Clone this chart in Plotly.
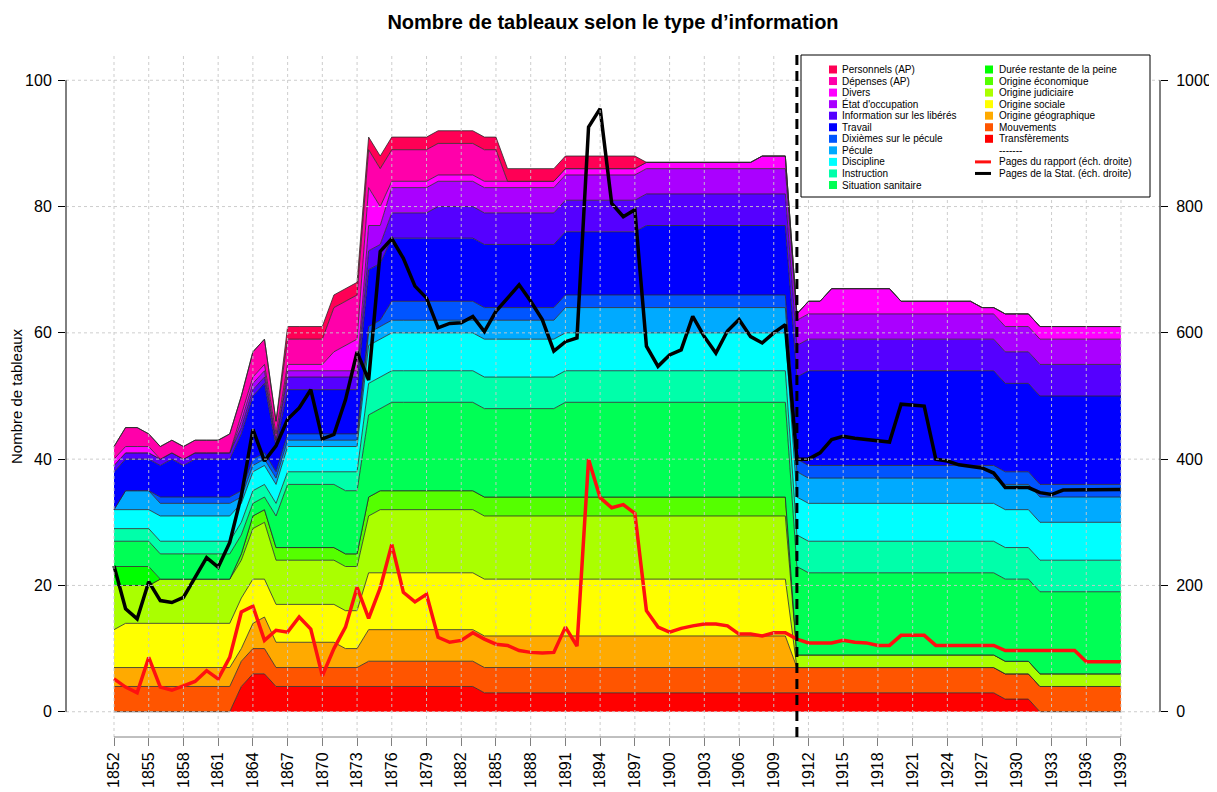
import plotly.graph_objects as go

# ---------------- DATA ----------------
years = [1852, 1853, 1854, 1855, 1856, 1857, 1858, 1859, 1860, 1861,
         1862, 1863, 1864, 1865, 1866, 1867, 1868, 1869, 1870, 1871,
         1872, 1873, 1874, 1875, 1876, 1877, 1878, 1879, 1880, 1881,
         1882, 1883, 1884, 1885, 1886, 1887, 1888, 1889, 1890, 1891,
         1892, 1893, 1894, 1895, 1896, 1897, 1898, 1899, 1900, 1901,
         1902, 1903, 1904, 1905, 1906, 1907, 1908, 1909, 1910, 1911,
         1912, 1913, 1914, 1915, 1916, 1917, 1918, 1919, 1920, 1921,
         1922, 1923, 1924, 1925, 1926, 1927, 1928, 1929, 1930, 1931,
         1932, 1933, 1934, 1935, 1936, 1937, 1938, 1939]

x_ticks = [1852, 1855, 1858, 1861, 1864, 1867, 1870, 1873, 1876, 1879,
           1882, 1885, 1888, 1891, 1894, 1897, 1900, 1903, 1906, 1909,
           1912, 1915, 1918, 1921, 1924, 1927, 1930, 1933, 1936, 1939]
y_ticks = [0, 20, 40, 60, 80, 100]
y2_ticks = [0, 200, 400, 600, 800, 1000]
break_year = 1911

transferements = [0, 0, 0, 0, 0, 0, 0, 0, 0, 0,
                  0, 4, 6, 6, 4, 4, 4, 4, 4, 4,
                  4, 4, 4, 4, 4, 4, 4, 4, 4, 4,
                  4, 4, 3, 3, 3, 3, 3, 3, 3, 3,
                  3, 3, 3, 3, 3, 3, 3, 3, 3, 3,
                  3, 3, 3, 3, 3, 3, 3, 3, 3, 3,
                  3, 3, 3, 3, 3, 3, 3, 3, 3, 3,
                  3, 3, 3, 3, 3, 3, 3, 2, 2, 2,
                  0, 0, 0, 0, 0, 0, 0, 0]
mouvements = [4, 4, 4, 4, 4, 4, 4, 4, 4, 4,
              4, 4, 4, 4, 3, 3, 3, 3, 3, 3,
              3, 3, 4, 4, 4, 4, 4, 4, 4, 4,
              4, 4, 4, 4, 4, 4, 4, 4, 4, 4,
              4, 4, 4, 4, 4, 4, 4, 4, 4, 4,
              4, 4, 4, 4, 4, 4, 4, 4, 4, 4,
              4, 4, 4, 4, 4, 4, 4, 4, 4, 4,
              4, 4, 4, 4, 4, 4, 4, 4, 4, 4,
              4, 4, 4, 4, 4, 4, 4, 4]
geographique = [3, 3, 3, 3, 3, 3, 3, 3, 3, 3,
                3, 2, 4, 5, 4, 4, 4, 4, 4, 4,
                3, 3, 5, 5, 5, 5, 5, 5, 5, 5,
                5, 5, 5, 5, 5, 5, 5, 5, 5, 5,
                5, 5, 5, 5, 5, 5, 5, 5, 5, 5,
                5, 5, 5, 5, 5, 5, 5, 5, 5, 0,
                0, 0, 0, 0, 0, 0, 0, 0, 0, 0,
                0, 0, 0, 0, 0, 0, 0, 0, 0, 0,
                0, 0, 0, 0, 0, 0, 0, 0]
sociale = [6, 7, 7, 7, 7, 7, 7, 7, 7, 7,
           7, 8, 7, 6, 6, 6, 6, 6, 6, 6,
           6, 6, 9, 9, 9, 9, 9, 9, 9, 9,
           9, 9, 9, 9, 9, 9, 9, 9, 9, 9,
           9, 9, 9, 9, 9, 9, 9, 9, 9, 9,
           9, 9, 9, 9, 9, 9, 9, 9, 9, 0,
           0, 0, 0, 0, 0, 0, 0, 0, 0, 0,
           0, 0, 0, 0, 0, 0, 0, 0, 0, 0,
           0, 0, 0, 0, 0, 0, 0, 0]
judiciaire = [7, 6, 6, 6, 7, 7, 7, 7, 7, 7,
              7, 6, 8, 9, 7, 7, 7, 7, 7, 7,
              7, 7, 9, 10, 10, 10, 10, 10, 10, 10,
              10, 10, 10, 10, 10, 10, 10, 10, 10, 10,
              10, 10, 10, 10, 10, 10, 10, 10, 10, 10,
              10, 10, 10, 10, 10, 10, 10, 10, 10, 2,
              2, 2, 2, 2, 2, 2, 2, 2, 2, 2,
              2, 2, 2, 2, 2, 2, 2, 2, 2, 2,
              2, 2, 2, 2, 2, 2, 2, 2]
economique = [0, 0, 0, 0, 0, 0, 0, 0, 0, 0,
              0, 1, 2, 2, 2, 2, 2, 2, 2, 2,
              2, 2, 3, 3, 3, 3, 3, 3, 3, 3,
              3, 3, 3, 3, 3, 3, 3, 3, 3, 3,
              3, 3, 3, 3, 3, 3, 3, 3, 3, 3,
              3, 3, 3, 3, 3, 3, 3, 3, 3, 0,
              0, 0, 0, 0, 0, 0, 0, 0, 0, 0,
              0, 0, 0, 0, 0, 0, 0, 0, 0, 0,
              0, 0, 0, 0, 0, 0, 0, 0]
duree = [3, 3, 3, 3, 0, 0, 0, 0, 0, 0,
         0, 0, 0, 0, 0, 0, 0, 0, 0, 0,
         0, 0, 0, 0, 0, 0, 0, 0, 0, 0,
         0, 0, 0, 0, 0, 0, 0, 0, 0, 0,
         0, 0, 0, 0, 0, 0, 0, 0, 0, 0,
         0, 0, 0, 0, 0, 0, 0, 0, 0, 0,
         0, 0, 0, 0, 0, 0, 0, 0, 0, 0,
         0, 0, 0, 0, 0, 0, 0, 0, 0, 0,
         0, 0, 0, 0, 0, 0, 0, 0]
sanitaire = [4, 4, 4, 4, 4, 4, 4, 4, 4, 4,
             4, 3, 2, 2, 5, 10, 10, 10, 10, 10,
             10, 10, 13, 13, 14, 14, 14, 14, 14, 14,
             14, 14, 14, 14, 14, 14, 14, 14, 14, 15,
             15, 15, 15, 15, 15, 15, 15, 15, 15, 15,
             15, 15, 15, 15, 15, 15, 15, 15, 15, 14,
             13, 13, 13, 13, 13, 13, 13, 13, 13, 13,
             13, 13, 13, 13, 13, 13, 13, 13, 13, 13,
             13, 13, 13, 13, 13, 13, 13, 13]
instruction = [2, 2, 2, 2, 2, 2, 2, 2, 2, 2,
               2, 2, 2, 2, 2, 2, 2, 2, 2, 2,
               3, 3, 5, 5, 5, 5, 5, 5, 5, 5,
               5, 5, 5, 5, 5, 5, 5, 5, 5, 5,
               5, 5, 5, 5, 5, 5, 5, 5, 5, 5,
               5, 5, 5, 5, 5, 5, 5, 5, 5, 5,
               5, 5, 5, 5, 5, 5, 5, 5, 5, 5,
               5, 5, 5, 5, 5, 5, 5, 5, 5, 5,
               5, 5, 5, 5, 5, 5, 5, 5]
discipline = [3, 3, 3, 3, 4, 4, 4, 4, 4, 4,
              4, 3, 3, 3, 3, 4, 4, 4, 4, 4,
              4, 4, 6, 6, 6, 6, 6, 6, 6, 6,
              6, 6, 6, 6, 6, 6, 6, 6, 6, 6,
              6, 6, 6, 6, 6, 6, 6, 6, 6, 6,
              6, 6, 6, 6, 6, 6, 6, 6, 6, 6,
              6, 6, 6, 6, 6, 6, 6, 6, 6, 6,
              6, 6, 6, 6, 6, 6, 6, 6, 6, 6,
              6, 6, 6, 6, 6, 6, 6, 6]
pecule = [0, 3, 3, 3, 2, 2, 2, 2, 2, 2,
          2, 1, 1, 1, 1, 1, 1, 1, 1, 1,
          1, 1, 2, 2, 2, 2, 2, 2, 2, 2,
          2, 2, 3, 3, 3, 3, 3, 3, 3, 4,
          4, 4, 4, 4, 4, 4, 4, 4, 4, 4,
          4, 4, 4, 4, 4, 4, 4, 4, 4, 4,
          4, 4, 4, 4, 4, 4, 4, 4, 4, 4,
          4, 4, 4, 4, 4, 4, 4, 4, 4, 4,
          4, 4, 4, 4, 4, 4, 4, 4]
dixiemes = [0, 0, 0, 0, 1, 1, 1, 1, 1, 1,
            1, 1, 1, 1, 1, 1, 1, 1, 1, 1,
            1, 1, 1, 1, 3, 3, 3, 3, 3, 3,
            3, 3, 2, 2, 2, 2, 2, 2, 2, 2,
            2, 2, 2, 2, 2, 2, 2, 2, 2, 2,
            2, 2, 2, 2, 2, 2, 2, 2, 2, 2,
            2, 2, 2, 2, 2, 2, 2, 2, 2, 2,
            2, 2, 2, 2, 2, 2, 2, 2, 2, 2,
            2, 2, 2, 2, 2, 2, 2, 2]
travail = [6, 5, 5, 5, 5, 6, 5, 6, 6, 6,
           6, 9, 10, 11, 4, 7, 7, 7, 7, 7,
           7, 7, 9, 9, 10, 10, 10, 10, 10, 10,
           10, 10, 10, 10, 10, 10, 10, 10, 10, 10,
           10, 10, 10, 10, 10, 10, 11, 11, 11, 11,
           11, 11, 11, 11, 11, 11, 11, 11, 11, 13,
           15, 15, 15, 15, 15, 15, 15, 15, 15, 15,
           15, 15, 15, 15, 15, 15, 15, 14, 14, 14,
           14, 14, 14, 14, 14, 14, 14, 14]
liberes = [1, 1, 1, 1, 1, 1, 1, 1, 1, 1,
           1, 1, 1, 1, 1, 2, 2, 2, 2, 2,
           2, 2, 3, 3, 4, 4, 4, 4, 5, 5,
           5, 5, 5, 5, 5, 5, 5, 5, 5, 5,
           5, 5, 5, 5, 5, 5, 5, 5, 5, 5,
           5, 5, 5, 5, 5, 5, 5, 5, 5, 5,
           5, 5, 5, 5, 5, 5, 5, 5, 5, 5,
           5, 5, 5, 5, 5, 5, 5, 5, 5, 5,
           5, 5, 5, 5, 5, 5, 5, 5]
occupation = [0, 0, 0, 0, 0, 0, 0, 0, 0, 0,
              0, 1, 1, 1, 0, 1, 1, 1, 1, 1,
              1, 1, 4, 3, 4, 4, 4, 4, 4, 4,
              4, 4, 4, 4, 4, 4, 4, 4, 4, 4,
              4, 4, 4, 4, 4, 4, 4, 4, 4, 4,
              4, 4, 4, 4, 4, 4, 4, 4, 4, 4,
              4, 4, 4, 4, 4, 4, 4, 4, 4, 4,
              4, 4, 4, 4, 4, 4, 4, 4, 4, 4,
              4, 4, 4, 4, 4, 4, 4, 4]
divers = [1, 1, 1, 1, 0, 0, 0, 0, 0, 0,
          0, 1, 1, 1, 1, 1, 1, 1, 1, 3,
          4, 5, 6, 3, 1, 1, 1, 1, 1, 1,
          1, 1, 1, 1, 1, 1, 1, 1, 1, 1,
          1, 1, 1, 1, 1, 1, 1, 1, 1, 1,
          1, 1, 1, 1, 1, 1, 2, 2, 2, 1,
          2, 2, 4, 4, 4, 4, 4, 4, 2, 2,
          2, 2, 2, 2, 2, 1, 1, 2, 2, 2,
          2, 2, 2, 2, 2, 2, 2, 2]
depenses = [2, 3, 3, 2, 2, 2, 2, 2, 2, 2,
            3, 3, 4, 4, 2, 4, 4, 4, 4, 7,
            7, 7, 6, 6, 5, 5, 5, 5, 5, 5,
            5, 5, 5, 5, 0, 0, 0, 0, 0, 0,
            0, 0, 0, 0, 0, 0, 0, 0, 0, 0,
            0, 0, 0, 0, 0, 0, 0, 0, 0, 0,
            0, 0, 0, 0, 0, 0, 0, 0, 0, 0,
            0, 0, 0, 0, 0, 0, 0, 0, 0, 0,
            0, 0, 0, 0, 0, 0, 0, 0]
personnels = [0, 0, 0, 0, 0, 0, 0, 0, 0, 0,
              0, 0, 0, 0, 0, 2, 2, 2, 2, 2,
              2, 2, 2, 2, 2, 2, 2, 2, 2, 2,
              2, 2, 2, 2, 2, 2, 2, 2, 2, 2,
              2, 2, 2, 2, 2, 2, 0, 0, 0, 0,
              0, 0, 0, 0, 0, 0, 0, 0, 0, 0,
              0, 0, 0, 0, 0, 0, 0, 0, 0, 0,
              0, 0, 0, 0, 0, 0, 0, 0, 0, 0,
              0, 0, 0, 0, 0, 0, 0, 0]

pages_rapport = [52, 39, 30, 86, 39, 34, 41, 48, 65, 52,
                 86, 158, 167, 113, 129, 126, 150, 131, 57, 100,
                 134, 197, 148, 196, 265, 189, 174, 186, 118, 110,
                 113, 125, 115, 107, 105, 97, 94, 93, 94, 134,
                 104, 400, 339, 323, 328, 314, 160, 134, 126, 132,
                 136, 139, 139, 136, 123, 123, 120, 125, 125, 115,
                 109, 109, 109, 113, 110, 109, 105, 105, 121, 121,
                 121, 105, 105, 104, 104, 105, 105, 97, 97, 97,
                 97, 97, 97, 97, 79, 79, 79, 79]
pages_stat = [231, 163, 147, 206, 176, 173, 181, 212, 244, 229,
              268, 342, 447, 397, 421, 463, 481, 510, 432, 439,
              494, 570, 525, 729, 749, 718, 674, 655, 608, 615,
              616, 626, 602, 634, 655, 676, 650, 621, 571, 586,
              592, 926, 955, 805, 784, 795, 579, 547, 565, 573,
              626, 594, 568, 603, 621, 594, 584, 600, 613, 400,
              400, 410, 431, 436, 433, 431, 428, 427, 487, 485,
              484, 400, 397, 391, 389, 386, 378, 355, 355, 355,
              347, 344, 351, 351, 352, 352, 352, 352]

# stacking order (bottom -> top), colours = R rainbow(18)
layers = [
    ("Transfèrements", transferements, "#FF0000"),
    ("Mouvements", mouvements, "#FF5500"),
    ("Origine géographique", geographique, "#FFAA00"),
    ("Origine sociale", sociale, "#FFFF00"),
    ("Origine judiciaire", judiciaire, "#AAFF00"),
    ("Origine économique", economique, "#55FF00"),
    ("Durée restante de la peine", duree, "#00FF00"),
    ("Situation sanitaire", sanitaire, "#00FF55"),
    ("Instruction", instruction, "#00FFAA"),
    ("Discipline", discipline, "#00FFFF"),
    ("Pécule", pecule, "#00AAFF"),
    ("Dixièmes sur le pécule", dixiemes, "#0055FF"),
    ("Travail", travail, "#0000FF"),
    ("Information sur les libérés", liberes, "#5500FF"),
    ("État d'occupation", occupation, "#AA00FF"),
    ("Divers", divers, "#FF00FF"),
    ("Dépenses (AP)", depenses, "#FF00AA"),
    ("Personnels (AP)", personnels, "#FF0055"),
]

# ---------------- GEOMETRY (screen pixels; page body has an 8px margin) ----------------
OFF = 8
W, H = 1217 - OFF, 792 - OFF
SL, SR, ST, SB = 66, 1160, 55, 737          # plot area edges on screen
PL, PR, PT, PB = SL - OFF, SR - OFF, ST - OFF, SB - OFF
X0, X1 = 1847.853, 1942.37                  # x range
FONT = "Liberation Sans, Arial, Helvetica, sans-serif"


def px_x(sx):
    return (sx - SL) / (SR - SL)


def px_y(sy):
    return (SB - sy) / (SB - ST)


fig = go.Figure()
for name, vals, col in layers:
    fig.add_trace(go.Scatter(
        x=years, y=vals, name=name, stackgroup="stack", mode="lines",
        line=dict(color="#2a2a2a", width=0.8), fillcolor=col,
        showlegend=False, hoverinfo="skip"))

fig.add_trace(go.Scatter(x=years, y=pages_rapport, yaxis="y2", mode="lines",
                         line=dict(color="#FF1010", width=3.5), showlegend=False))
fig.add_trace(go.Scatter(x=years, y=pages_stat, yaxis="y2", mode="lines",
                         line=dict(color="#000000", width=3.5), showlegend=False))

shapes = []
for xv in x_ticks:
    shapes.append(dict(type="line", xref="x", yref="paper", x0=xv, x1=xv, y0=0, y1=1,
                       line=dict(color="rgba(200,200,200,0.9)", width=1, dash="dot"), layer="above"))
for yv in y_ticks:
    shapes.append(dict(type="line", xref="paper", yref="y", x0=0, x1=1, y0=yv, y1=yv,
                       line=dict(color="rgba(200,200,200,0.9)", width=1, dash="dot"), layer="above"))
shapes.append(dict(type="line", xref="paper", yref="y", x0=0, x1=0, y0=0, y1=100,
                   line=dict(color="black", width=1), layer="above"))
shapes.append(dict(type="line", xref="paper", yref="y", x0=1, x1=1, y0=0, y1=100,
                   line=dict(color="black", width=1), layer="above"))
shapes.append(dict(type="line", xref="x", yref="paper", x0=x_ticks[0], x1=x_ticks[-1], y0=0, y1=0,
                   line=dict(color="#808080", width=1), layer="above"))
shapes.append(dict(type="line", xref="x", yref="paper", x0=break_year, x1=break_year, y0=0, y1=1,
                   line=dict(color="black", width=3, dash="10px,6px"), layer="above"))
shapes.append(dict(type="rect", xref="paper", yref="paper",
                   x0=px_x(801), x1=px_x(1150), y0=px_y(197), y1=px_y(55),
                   fillcolor="white", line=dict(color="black", width=1), layer="above"))

annotations = []
col1 = list(reversed(layers))[:11]
col2 = list(reversed(layers))[11:]
ROW0, DY = 69.5, 11.55
for i, (name, _, col) in enumerate(col1):
    yc = ROW0 + DY * i
    shapes.append(dict(type="rect", xref="paper", yref="paper",
                       x0=px_x(829), x1=px_x(837), y0=px_y(yc + 4), y1=px_y(yc - 4),
                       fillcolor=col, line=dict(width=0), layer="above"))
    annotations.append(dict(x=px_x(840), y=px_y(yc), xref="paper", yref="paper", text=name,
                            showarrow=False, xanchor="left", yanchor="middle",
                            font=dict(family=FONT, size=10, color="black")))
for i, (name, _, col) in enumerate(col2):
    yc = ROW0 + DY * i
    shapes.append(dict(type="rect", xref="paper", yref="paper",
                       x0=px_x(985), x1=px_x(993), y0=px_y(yc + 4), y1=px_y(yc - 4),
                       fillcolor=col, line=dict(width=0), layer="above"))
    annotations.append(dict(x=px_x(997), y=px_y(yc), xref="paper", yref="paper", text=name,
                            showarrow=False, xanchor="left", yanchor="middle",
                            font=dict(family=FONT, size=10, color="black")))
extra = [("-------", None), ("Pages du rapport (éch. droite)", "#FF1010"),
         ("Pages de la Stat. (éch. droite)", "#000000")]
for j, (txt, lc) in enumerate(extra):
    yc = ROW0 + DY * (len(col2) + j)
    if lc:
        shapes.append(dict(type="line", xref="paper", yref="paper",
                           x0=px_x(975), x1=px_x(991), y0=px_y(yc), y1=px_y(yc),
                           line=dict(color=lc, width=3), layer="above"))
    annotations.append(dict(x=px_x(997), y=px_y(yc), xref="paper", yref="paper", text=txt,
                            showarrow=False, xanchor="left", yanchor="middle",
                            font=dict(family=FONT, size=10, color="black")))

annotations.append(dict(x=px_x(16), y=0.5, xref="paper", yref="paper", text="Nombre de tableaux",
                        textangle=-90, showarrow=False, xanchor="center", yanchor="middle",
                        font=dict(family=FONT, size=15, color="black")))

fig.update_layout(
    width=W, height=H,
    margin=dict(l=PL, r=W - PR, t=PT, b=H - PB, pad=0, autoexpand=False),
    paper_bgcolor="white", plot_bgcolor="white",
    font=dict(family=FONT, color="black"),
    title=dict(text="<b>Nombre de tableaux selon le type d’information</b>",
               x=0.5, xref="paper", y=1 - (22 - OFF) / H, yref="container",
               xanchor="center", yanchor="middle",
               font=dict(family=FONT, size=20, color="black")),
    xaxis=dict(range=[X0, X1], tickmode="array", tickvals=x_ticks,
               ticktext=[str(t) for t in x_ticks], tickangle=-90,
               ticks="outside", ticklen=8, tickcolor="#808080", tickwidth=1,
               showgrid=False, zeroline=False, showline=False, automargin=False,
               tickfont=dict(family=FONT, size=16, color="black")),
    yaxis=dict(range=[-4, 104], tickmode="array", tickvals=y_ticks,
               ticks="outside", ticklen=7, tickcolor="black", ticklabelstandoff=3,
               showgrid=False, zeroline=False, showline=False, automargin=False,
               tickfont=dict(family=FONT, size=16, color="black")),
    yaxis2=dict(range=[-40, 1040], overlaying="y", side="right", tickmode="array",
                tickvals=y2_ticks, ticks="outside", ticklen=7, tickcolor="black",
                ticklabelstandoff=5,
                showgrid=False, zeroline=False, showline=False, automargin=False,
                tickfont=dict(family=FONT, size=16, color="black")),
    shapes=shapes, annotations=annotations,
)

fig.write_html("out.html")
